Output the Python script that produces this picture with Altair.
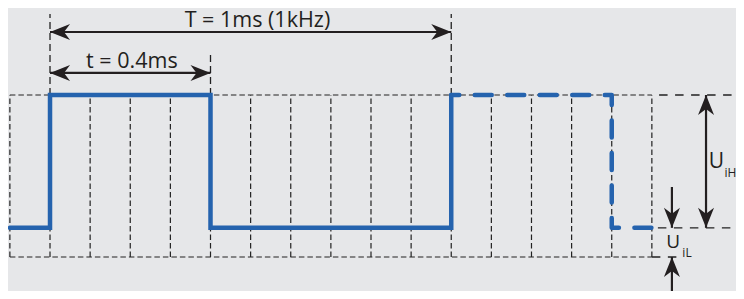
import altair as alt
import pandas as pd

# ---------------- data (time in ms, level as fraction of grid height) ----------------
grid_t = [-0.1, 0.0, 0.1, 0.2, 0.3, 0.4, 0.5, 0.6, 0.7, 0.8, 0.9,
          1.0, 1.1, 1.2, 1.3, 1.4, 1.5]
grid_v = [0.0, 1.0]
LOW = 0.18
HIGH = 1.0

# solid signal (first period)
sig_t = [-0.1, 0.0, 0.0, 0.4, 0.4, 1.0, 1.0]
sig_v = [LOW, LOW, HIGH, HIGH, LOW, LOW, HIGH]

# dashed continuation (next period)
next_t = [1.0, 1.4, 1.4, 1.5]
next_v = [HIGH, HIGH, LOW, LOW]

# dimension arrows (horizontal): start, end, level
dim_t0 = [0.0, 0.0]
dim_t1 = [1.0, 0.4]
dim_v = [1.389, 1.136]

# dashed guide lines (vertical): time, from, to
guide_t = [0.0, 1.0, 0.4]
guide_v0 = [1.0, 1.0, 1.0]
guide_v1 = [1.5, 1.5, 1.247]

# level extension lines (horizontal dashed): from, to, level
ext_t0 = [1.518, 1.515, 1.5]
ext_t1 = [1.702, 1.702, 1.565]
ext_v = [HIGH, LOW, 0.0]

# vertical level arrows: time, from, to
varr_t = [1.635, 1.55, 1.55]
varr_v0 = [LOW, 0.432, -0.26]
varr_v1 = [HIGH, LOW, 0.0]

# arrow heads: tip time, tip level, direction angle
head_t = [0.0, 1.0, 0.0, 0.4, 1.635, 1.635, 1.55, 1.55]
head_v = [1.389, 1.389, 1.136, 1.136, HIGH, LOW, LOW, 0.0]
head_a = [180, 0, 180, 0, 270, 90, 90, 270]

# labels
lab_c_t = [0.517, 0.204]
lab_c_v = [1.420, 1.167]
lab_c_txt = ["T = 1ms (1kHz)", "t = 0.4ms"]

lab_l_t = [1.642, 1.536]
lab_l_v = [0.549, 0.056]
lab_l_txt = ["U", "U"]
lab_l_size = [21, 19]

sub_t = [1.681, 1.576]
sub_v = [0.494, 0.0]
sub_txt = ["iH", "iL"]

# ---------------- styling ----------------
BG = "#e6e7e9"
BLUE = "#2563ae"
INK = "#231f20"
GRID = "#222222"
FONT = "Open Sans"

xs = alt.Scale(domain=[-0.1047, 1.7097], nice=False, zero=False)
ys = alt.Scale(domain=[-0.2099, 1.537], nice=False, zero=False)


def X(f):
    return alt.X(f, type="quantitative", scale=xs, axis=None)


def Y(f):
    return alt.Y(f, type="quantitative", scale=ys, axis=None)


vgrid = pd.DataFrame({"t": grid_t, "v0": grid_v[0], "v1": grid_v[1]})
hgrid = pd.DataFrame({"v": grid_v, "t0": grid_t[0], "t1": grid_t[-1]})

grid_style = dict(color=GRID, strokeWidth=1.2, strokeDash=[5.5, 3])

vgrid_l = alt.Chart(vgrid).mark_rule(**grid_style).encode(
    x=X("t"), y=Y("v0"), y2="v1")
hgrid_l = alt.Chart(hgrid).mark_rule(**grid_style).encode(
    x=X("t0"), x2="t1", y=Y("v"))

ext = pd.DataFrame({"t0": ext_t0, "t1": ext_t1, "v": ext_v})
ext_l = alt.Chart(ext).mark_rule(color=GRID, strokeWidth=1.3, strokeDash=[8.5, 7.5]).encode(
    x=X("t0"), x2="t1", y=Y("v"))

guides = pd.DataFrame({"t": guide_t, "v0": guide_v0, "v1": guide_v1})
guide_l = alt.Chart(guides).mark_rule(color=GRID, strokeWidth=1.3, strokeDash=[7, 4]).encode(
    x=X("t"), y=Y("v0"), y2="v1")

sig = pd.DataFrame({"t": sig_t, "v": sig_v, "o": list(range(len(sig_t)))})
sig_l = alt.Chart(sig).mark_line(color=BLUE, strokeWidth=4.5, strokeCap="round",
                                 strokeJoin="miter").encode(
    x=X("t"), y=Y("v"), order="o:Q")

nxt = pd.DataFrame({"t": next_t, "v": next_v, "o": list(range(len(next_t)))})
nxt_l = alt.Chart(nxt).mark_line(color=BLUE, strokeWidth=4.5, strokeCap="round",
                                 strokeJoin="round", strokeDash=[17, 15.5],
                                 strokeDashOffset=9).encode(
    x=X("t"), y=Y("v"), order="o:Q")

dims = pd.DataFrame({"t0": dim_t0, "t1": dim_t1, "v": dim_v})
dim_l = alt.Chart(dims).mark_rule(color=INK, strokeWidth=2.2).encode(
    x=X("t0"), x2="t1", y=Y("v"))

varr = pd.DataFrame({"t": varr_t, "v0": varr_v0, "v1": varr_v1})
varr_l = alt.Chart(varr).mark_rule(color=INK, strokeWidth=2.2).encode(
    x=X("t"), y=Y("v0"), y2="v1")

ARROW = "M0,0L-4,-1.6L-2.8,0L-4,1.6Z"
heads = pd.DataFrame({"t": head_t, "v": head_v, "a": head_a})
head_l = alt.Chart(heads).mark_point(shape=ARROW, filled=True, size=100, color=INK,
                                     opacity=1, strokeWidth=0).encode(
    x=X("t"), y=Y("v"), angle=alt.Angle("a:Q", scale=None))

labc = pd.DataFrame({"t": lab_c_t, "v": lab_c_v, "s": lab_c_txt})
labc_l = alt.Chart(labc).mark_text(font=FONT, fontSize=21.5, color=INK, align="center",
                                   baseline="alphabetic").encode(
    x=X("t"), y=Y("v"), text="s:N")

labl = pd.DataFrame({"t": lab_l_t, "v": lab_l_v, "s": lab_l_txt, "z": lab_l_size})
labl_l = alt.Chart(labl).mark_text(font=FONT, color=INK, align="left",
                                   baseline="alphabetic").encode(
    x=X("t"), y=Y("v"), text="s:N", size=alt.Size("z:Q", scale=None, legend=None))

subs = pd.DataFrame({"t": sub_t, "v": sub_v, "s": sub_txt})
sub_l = alt.Chart(subs).mark_text(font=FONT, fontSize=12, color=INK, align="left",
                                  baseline="alphabetic").encode(
    x=X("t"), y=Y("v"), text="s:N")

chart = alt.layer(
    vgrid_l, hgrid_l, ext_l, guide_l, sig_l, nxt_l, dim_l, varr_l, head_l,
    labc_l, labl_l, sub_l
).properties(
    width=728, height=283,
    autosize=alt.AutoSizeParams(type="none"),
    padding=0,
    background=BG,
).configure_view(stroke=None)

chart.save("out.html", embed_options={"renderer": "svg", "actions": False})
